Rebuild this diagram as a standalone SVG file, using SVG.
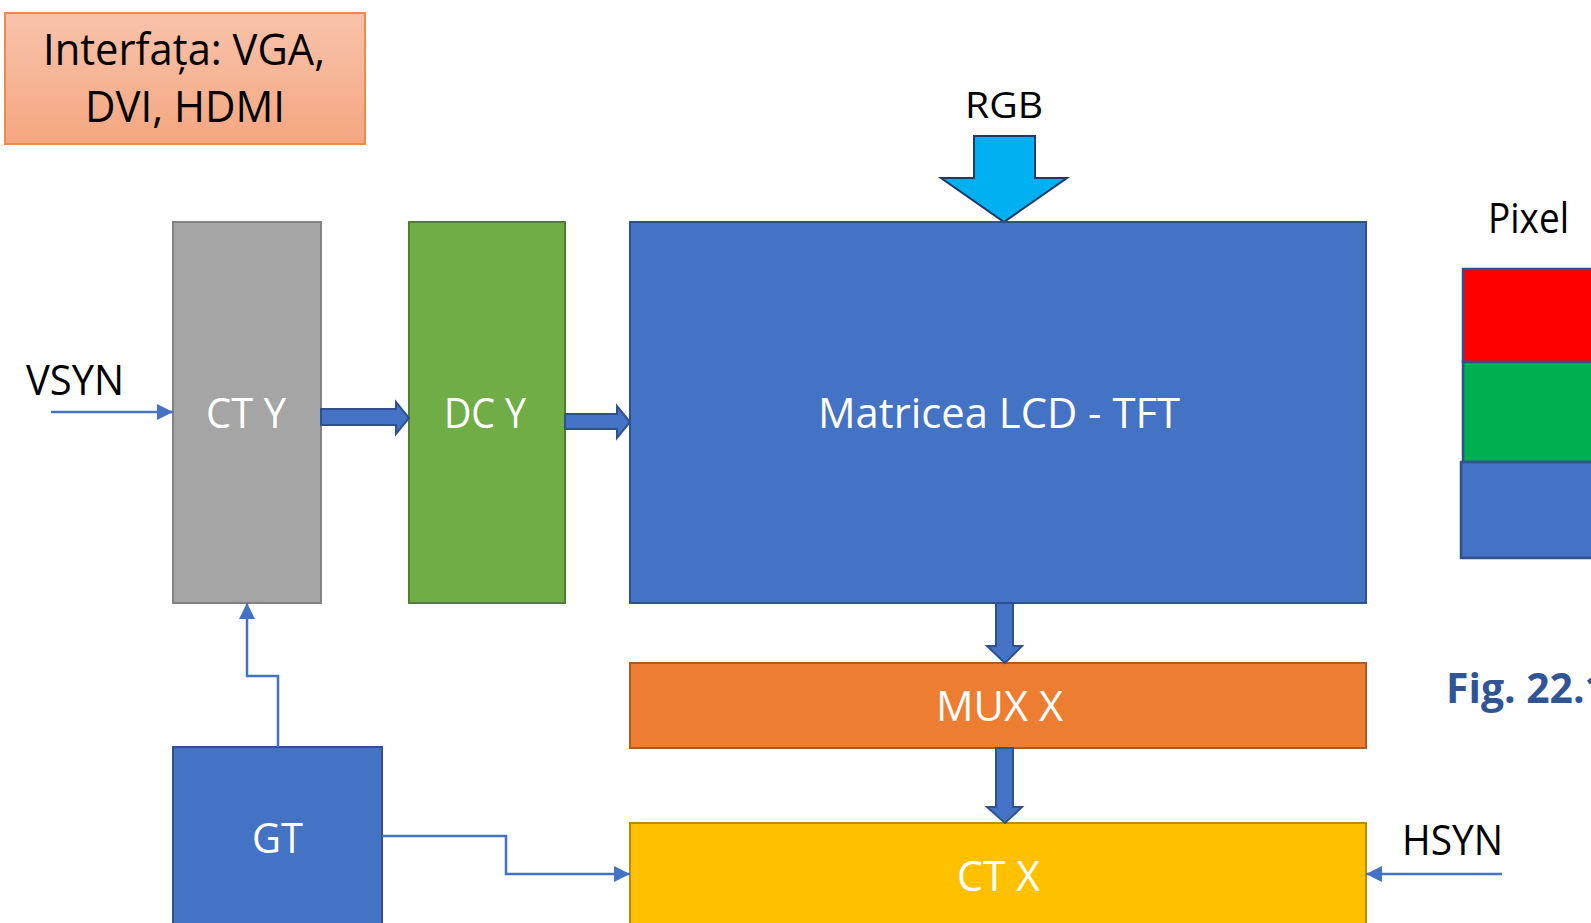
<svg xmlns="http://www.w3.org/2000/svg" width="1591" height="923" viewBox="0 0 1591 923">
  <style>
    text { font-family: "Open Sans", "Noto Sans", "Liberation Sans", sans-serif; font-size: 42px; }
    .dark { fill: #000000; }
    .light { fill: #ffffff; }
    .fig { fill: #2f5597; font-weight: bold; }
    .blk { stroke-width: 2; }
    .wire { fill: none; stroke: #4472c4; stroke-width: 2.5; }
    .barrow { fill: #4472c4; stroke: #2f528f; stroke-width: 2; stroke-linejoin: miter; }
  </style>
  <defs>
    <linearGradient id="ifaceFill" x1="0" y1="0" x2="0" y2="1">
      <stop offset="0" stop-color="#f8c3ab"/>
      <stop offset="1" stop-color="#f4a680"/>
    </linearGradient>
    <marker id="tri" viewBox="0 0 16 16" refX="16" refY="8" markerWidth="16" markerHeight="16" markerUnits="userSpaceOnUse" orient="auto">
      <path d="M0,0 L16,8 L0,16 Z" fill="#4472c4"/>
    </marker>
  </defs>
  <rect width="1591" height="923" fill="#ffffff"/>

  <!-- interface note -->
  <g id="interface">
    <rect x="5" y="13" width="360" height="131" fill="url(#ifaceFill)" stroke="#ed8a4c" stroke-width="2"/>
    <text class="dark" x="43" y="65" textLength="282" lengthAdjust="spacingAndGlyphs" style="font-size:43px">Interfața: VGA,</text>
    <text class="dark" x="85" y="122" textLength="200" lengthAdjust="spacingAndGlyphs" style="font-size:43px">DVI, HDMI</text>
  </g>

  <!-- RGB input -->
  <g id="rgb">
    <text class="dark" x="965" y="118" textLength="78" lengthAdjust="spacingAndGlyphs" style="font-size:37px">RGB</text>
    <polygon points="974,136 1035,136 1035,178 1067,178 1004,222 941,178 974,178" fill="#00b0f0" stroke="#1f3864" stroke-width="2"/>
  </g>

  <!-- blocks -->
  <g id="ct-y">
    <rect class="blk" x="173" y="222" width="148" height="381" fill="#a5a5a5" stroke="#828282"/>
    <text class="light" x="206" y="428" textLength="80" lengthAdjust="spacingAndGlyphs">CT Y</text>
  </g>
  <g id="dc-y">
    <rect class="blk" x="409" y="222" width="156" height="381" fill="#70ad47" stroke="#507e32"/>
    <text class="light" x="444" y="428" textLength="82" lengthAdjust="spacingAndGlyphs">DC Y</text>
  </g>
  <g id="matrix">
    <rect class="blk" x="630" y="222" width="736" height="381" fill="#4472c4" stroke="#2f528f"/>
    <text class="light" x="818" y="428" textLength="362" lengthAdjust="spacingAndGlyphs">Matricea LCD - TFT</text>
  </g>
  <g id="mux-x">
    <rect class="blk" x="630" y="663" width="736" height="85" fill="#ed7d31" stroke="#ae5a21"/>
    <text class="light" x="936" y="721" textLength="127" lengthAdjust="spacingAndGlyphs">MUX X</text>
  </g>
  <g id="ct-x">
    <rect class="blk" x="630" y="823" width="736" height="110" fill="#ffc000" stroke="#bc8c00"/>
    <text class="light" x="957" y="891" textLength="83" lengthAdjust="spacingAndGlyphs">CT X</text>
  </g>
  <g id="gt">
    <rect class="blk" x="173" y="747" width="209" height="190" fill="#4472c4" stroke="#2f528f"/>
    <text class="light" x="252" y="853" textLength="51" lengthAdjust="spacingAndGlyphs">GT</text>
  </g>

  <!-- pixel sample -->
  <g id="pixel">
    <text class="dark" x="1488" y="233" textLength="81" lengthAdjust="spacingAndGlyphs">Pixel</text>
    <rect x="1463" y="269" width="140" height="93" fill="#ff0000" stroke="#2f528f" stroke-width="2.5"/>
    <rect x="1463" y="362" width="140" height="100" fill="#00b050" stroke="#2f528f" stroke-width="2.5"/>
    <rect x="1461" y="462" width="142" height="96" fill="#4472c4" stroke="#2f528f" stroke-width="2.5"/>
  </g>

  <!-- signal labels -->
  <g id="labels">
    <text class="dark" x="26" y="395" textLength="98" lengthAdjust="spacingAndGlyphs">VSYN</text>
    <text class="dark" x="1402" y="855" textLength="101" lengthAdjust="spacingAndGlyphs">HSYN</text>
    <text class="fig" x="1446" y="703" textLength="162" lengthAdjust="spacingAndGlyphs">Fig. 22.1</text>
  </g>

  <!-- connectors -->
  <g id="connectors">
    <line class="wire" x1="51" y1="412" x2="173" y2="412" marker-end="url(#tri)"/>
    <line class="wire" x1="1502" y1="874" x2="1366" y2="874" marker-end="url(#tri)"/>
    <polyline class="wire" points="278,747 278,676 247,676 247,603" marker-end="url(#tri)"/>
    <polyline class="wire" points="382,836 506,836 506,874 630,874" marker-end="url(#tri)"/>
    <polygon class="barrow" points="321,409 396,409 396,402 409,418 396,434 396,425 321,425"/>
    <polygon class="barrow" points="565,414 617,414 617,406 630,422 617,438 617,429 565,429"/>
    <polygon class="barrow" points="996,603 1013,603 1013,646 1022,646 1005,663 987,646 996,646"/>
    <polygon class="barrow" points="996,748 1013,748 1013,807 1022,807 1005,823 987,807 996,807"/>
  </g>
</svg>
